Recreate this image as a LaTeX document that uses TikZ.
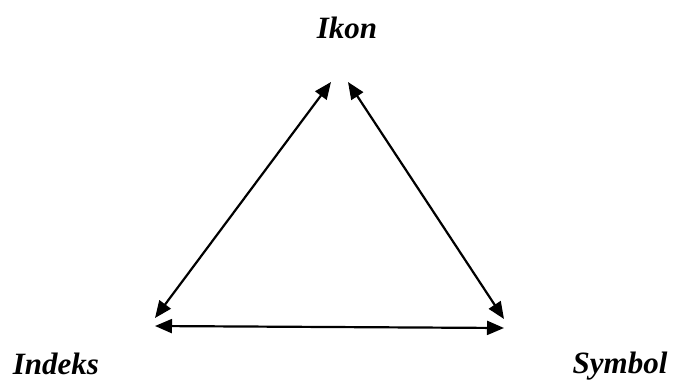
\documentclass[tikz,border=0pt]{standalone}
\usepackage{fontspec}
\setmainfont{Liberation Serif}
\usetikzlibrary{arrows.meta}
\tikzset{
  lbl/.style={font=\fontsize{31}{36}\selectfont\bfseries\itshape, inner sep=0pt, anchor=base},
  dbl/.style={line width=2.2pt, {Triangle[length=17pt,width=14pt]}-{Triangle[length=17pt,width=14pt]}}
}
\begin{document}
\begin{tikzpicture}[x=1pt,y=-1pt]
\useasboundingbox (0,0) rectangle (674,381);
\node[lbl] (ikon) at (347,38) {Ikon};
\node[lbl] (indeks) at (56,374) {Indeks};
\node[lbl] (symbol) at (620,373) {Symbol};
\coordinate (tl) at (331,82);
\coordinate (tr) at (348,82);
\coordinate (bl1) at (155,318);
\coordinate (br1) at (504,319);
\coordinate (bl2) at (155,326);
\coordinate (br2) at (504,328);
\draw[dbl] (bl1) -- (tl);
\draw[dbl] (tr) -- (br1);
\draw[dbl] (bl2) -- (br2);
\end{tikzpicture}
\end{document}
